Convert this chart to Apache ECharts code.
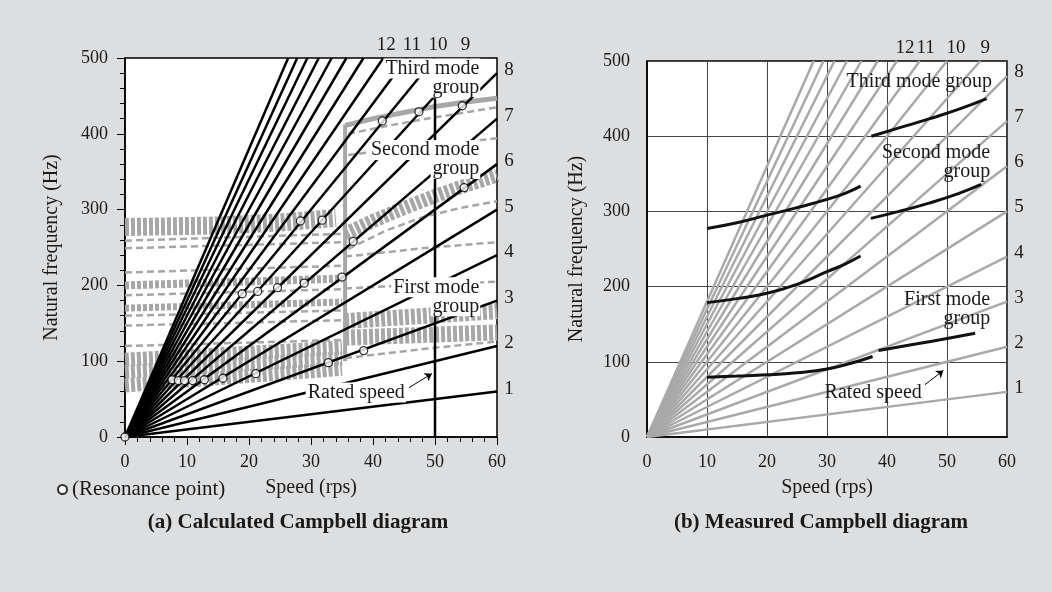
<!DOCTYPE html>
<html><head><meta charset="utf-8">
<script src="https://cdn.jsdelivr.net/npm/echarts@6/dist/echarts.min.js"></script>
<style>html,body{margin:0;padding:0;background:#dddee0}#c{width:1052px;height:592px}</style>
</head><body><div id="c"></div>
<script>
// ---------- data ----------
const speedTicks = [0, 10, 20, 30, 40, 50, 60];
const freqTicks = [0, 100, 200, 300, 400, 500];
const ordersCalc = [1,2,3,4,5,6,7,8,9,10,11,12,13,14,15,16,17,18,19];
const ordersMeas = [1,2,3,4,5,6,7,8,9,10,11,12,13,14,15,16,17,18];
const ratedSpeed = 50;
const resonancePoints = [[0,0],[7.6,75.5],[8.6,74.5],[9.6,74.5],[10.9,74.5],[12.8,75.5],[15.8,77.5],[21.1,83.5],
  [32.8,98],[38.5,114],[18.9,189],[21.4,192],[24.6,197],[28.9,203],[35.0,211],[36.8,258],
  [28.3,285],[31.8,286],[41.5,417],[47.4,429],[54.4,437],[54.7,329]];

// calculated modes (gray), before the jump
const calcHatchA = [[0,277],[15,279],[25,283],[34,289]];
const calcDashA1 = [[0,259],[35,268]];
const calcDashA2 = [[0,249],[35,257]];
const calcDashB1 = [[0,217],[35,226]];
const calcHatchB = [[0,200],[35,209]];
const calcDashB2 = [[0,187],[35,195]];
const calcHatchC = [[0,170],[35,178]];
const calcDashC1 = [[0,160],[35,167]];
const calcDashC2 = [[0,147],[35,154]];
const calcDashD0 = [[0,120],[35,128]];
const calcHatchD1 = [[0,68],[35,90]];
const calcHatchD2 = [[0,86],[35,104]];
const calcHatchD3 = [[0,102],[35,118]];
// after the jump
const calcJump = [[35.5,100],[35.5,412]];
const calcThirdBand = [[35.5,411],[40,420],[45,428],[50,436],[55,442],[60,447]];
const calcThirdDash1 = [[36,400],[42,410],[48,419],[54,427],[60,435]];
const calcThirdDash2 = [[36,372],[48,384],[60,394]];
const calcSecondBand = [[35.5,268],[40,285],[45,302],[50,318],[55,332],[60,345]];
const calcSecondDash1 = [[36,248],[42,272],[48,290],[54,302],[60,311]];
const calcSecondDash2 = [[35.5,238],[48,249],[60,257]];
const calcSecondDash3 = [[35.5,196],[48,201],[60,205]];
const calcFirstBand1 = [[35.5,131],[60,138]];
const calcFirstBand2 = [[35.5,153],[60,166]];
const calcFirstDash = [[35.5,104],[48,116],[60,126]];

// measured modes (black)
const measFirstA = [[10,79.6],[15,81],[20,82.7],[25,85.5],[30,90.3],[34,98],[37.6,107]];
const measFirstB = [[38.6,115],[45,124],[50,131],[54.7,138]];
const measSecondA = [[10,178.7],[15,184],[20,191.2],[25,203],[30,219.8],[33,230],[35.6,240.7]];
const measSecondB = [[10,277.4],[15,285],[20,295],[25,305],[30,316],[33,324],[35.6,333.6]];
const measSecondC = [[37.3,290.7],[42,300],[47,311],[52,324],[55.7,335.8]];
const measThird = [[37.4,400],[42,411],[47,423],[52,436],[56.6,450]];

// ---------- styles ----------
const FONT = 'Liberation Serif';
const TXT = '#1a1a1a';
const GRAY = '#a7a7a7';
const chart = echarts.init(document.getElementById('c'), null, {renderer:'canvas'});

function axisX(grid, opts) {
  return Object.assign({
    gridIndex: grid, type: 'value', min: 0, max: 60, interval: 10,
    axisLine: {show: true, onZero:false, lineStyle: {color: '#000', width: 1.5}},
    axisLabel: {fontFamily: FONT, fontSize: 18, color: TXT, margin: 16},
    splitLine: {show: false},
    name: 'Speed (rps)', nameLocation: 'middle', nameGap: 41,
    nameTextStyle: {fontFamily: FONT, fontSize: 20, color: TXT}
  }, opts);
}
function axisY(grid, opts) {
  return Object.assign({
    gridIndex: grid, type: 'value', min: 0, max: 500, interval: 100,
    axisLine: {show: true, onZero:false, lineStyle: {color: '#000', width: 1.5}},
    axisLabel: {fontFamily: FONT, fontSize: 18, color: TXT, margin: 17},
    splitLine: {show: false},
    name: 'Natural frequency (Hz)', nameLocation: 'middle', nameGap: 63,
    nameTextStyle: {fontFamily: FONT, fontSize: 20, color: TXT}
  }, opts);
}

const series = [];
function gray(data, kind, width) {
  const ls = {color: GRAY, cap: 'butt', join:'round'};
  if (kind === 'hatch') { ls.width = width || 10; ls.type = [4, 2]; }
  else if (kind === 'dash') { ls.width = 2.5; ls.type = [7, 4]; }
  else { ls.width = width || 4; ls.type = 'solid'; }
  series.push({type: 'line', xAxisIndex: 0, yAxisIndex: 0, data, symbol: 'none', silent: true,
    lineStyle: ls, z: 1, animation: false});
}
gray(calcHatchA, 'hatch', 18);
gray(calcDashA1, 'dash'); gray(calcDashA2, 'dash');
gray(calcDashB1, 'dash'); gray(calcHatchB, 'hatch', 8); gray(calcDashB2, 'dash');
gray(calcHatchC, 'hatch', 7); gray(calcDashC1, 'dash'); gray(calcDashC2, 'dash');
gray(calcDashD0, 'dash');
gray(calcHatchD1, 'hatch', 14); gray(calcHatchD2, 'hatch', 14); gray(calcHatchD3, 'hatch', 14);
gray(calcJump, 'solid', 4);
gray(calcThirdBand, 'solid', 5);
gray(calcThirdDash1, 'dash'); gray(calcThirdDash2, 'dash');
gray(calcSecondBand, 'hatch', 14);
gray(calcSecondDash1, 'dash'); gray(calcSecondDash2, 'dash'); gray(calcSecondDash3, 'dash');
gray(calcFirstBand1, 'hatch', 16); gray(calcFirstBand2, 'hatch', 16);
gray(calcFirstDash, 'dash');

// order lines
function orderEnd(k) { return [Math.min(60, 500 / k), Math.min(500, 60 * k)]; }
ordersCalc.forEach(k => series.push({type: 'line', xAxisIndex: 0, yAxisIndex: 0, data: [[0, 0], orderEnd(k)],
  symbol: 'none', lineStyle: {color: '#000', width: 2.5}, z: 3, animation: false, silent: true}));
ordersMeas.forEach(k => series.push({type: 'line', xAxisIndex: 1, yAxisIndex: 1, data: [[0, 0], orderEnd(k)],
  symbol: 'none', lineStyle: {color: '#a9a9a9', width: 2.5}, z: 2, animation: false, silent: true}));

// rated speed line (calc)
series.push({type: 'line', xAxisIndex: 0, yAxisIndex: 0, data: [[ratedSpeed, 0], [ratedSpeed, 447]], symbol: 'none',
  lineStyle: {color: '#000', width: 2.5}, z: 3, animation: false, silent: true});

// measured curves
[measFirstA, measFirstB, measSecondA, measSecondB, measSecondC, measThird].forEach(d =>
  series.push({type: 'line', xAxisIndex: 1, yAxisIndex: 1, data: d, symbol: 'none', smooth: true,
    lineStyle: {color: '#111', width: 3}, z: 4, animation: false, silent: true}));

// resonance points
series.push({name: '(Resonance point)', type: 'scatter', xAxisIndex: 0, yAxisIndex: 0, data: resonancePoints,
  symbol: 'circle', symbolSize: 8, clip: false, itemStyle: {color: '#fff', borderColor: '#000', borderWidth: 1.3},
  z: 7, animation: false});

// arrows
series.push({type: 'lines', coordinateSystem: 'cartesian2d', xAxisIndex: 0, yAxisIndex: 0, z: 8,
  data: [{coords: [[45.8, 65], [49.5, 83.6]]}], symbol: ['none', 'arrow'], symbolSize: 7,
  lineStyle: {color: '#000', width: 1, opacity: 1}, animation: false, silent: true});
series.push({type: 'lines', coordinateSystem: 'cartesian2d', xAxisIndex: 1, yAxisIndex: 1, z: 8,
  data: [{coords: [[46.3, 69.4], [49.4, 88.4]]}], symbol: ['none', 'arrow'], symbolSize: 7,
  lineStyle: {color: '#000', width: 1, opacity: 1}, animation: false, silent: true});

chart.setOption({
  backgroundColor: '#dddee0',
  animation: false,
  grid: [
    {left: 125, top: 58, width: 372, height: 379, show: true, backgroundColor: '#fff', borderColor: '#000', borderWidth: 1.5},
    {left: 647, top: 61, width: 360, height: 376, show: true, backgroundColor: '#fff', borderColor: '#000', borderWidth: 1.5}
  ],
  xAxis: [
    axisX(0, {axisTick: {show: true, length: 8, lineStyle: {color: '#000'}},
      minorTick: {show: true, splitNumber: 5, length: 5, lineStyle: {color: '#000'}}}),
    axisX(1, {axisTick: {show: false},
      splitLine: {show: true, lineStyle: {color: '#444', width: 1}}})
  ],
  yAxis: [
    axisY(0, {axisTick: {show: true, length: 8, lineStyle: {color: '#000'}},
      minorTick: {show: true, splitNumber: 5, length: 5, lineStyle: {color: '#000'}}}),
    axisY(1, {axisTick: {show: false}, nameGap: 60,
      splitLine: {show: true, lineStyle: {color: '#444', width: 1}}})
  ],
  legend: {data: ['(Resonance point)'], left: 52, top: 474, icon: 'circle', itemWidth: 9, itemHeight: 9, itemGap: 5,
    textStyle: {fontFamily: FONT, fontSize: 21, color: TXT}},
  series
});

// ---------- text placed through the chart's own scales ----------
const graphics = [
  {type: 'text', x: 298, y: 523, z: 100, style: {text: '(a) Calculated Campbell diagram', align: 'center', verticalAlign: 'middle',
    font: 'bold 21px "Liberation Serif"', fill: TXT}},
  {type: 'text', x: 821, y: 523, z: 100, style: {text: '(b) Measured Campbell diagram', align: 'center', verticalAlign: 'middle',
    font: 'bold 21px "Liberation Serif"', fill: TXT}}
];
function px(gi, pt) { return chart.convertToPixel({gridIndex: gi}, pt); }

const topOffL = {9: -4, 10: 3, 11: 5, 12: 3};
const topOffR = {9: 5, 10: 9, 11: 6, 12: 8};
function orderLabels(orders, gi, sideOff, topOff) {
  orders.filter(k => k <= 12).forEach(k => {
    const p = px(gi, orderEnd(k));
    const off = k <= 8 ? sideOff : [topOff[k], -13];
    graphics.push({type: 'text', x: p[0] + off[0], y: p[1] + off[1], z: 100,
      style: {text: String(k), align: 'center', verticalAlign: 'middle', font: '19px "Liberation Serif"', fill: TXT}});
  });
}
orderLabels(ordersCalc, 0, [12, -3], topOffL);
orderLabels(ordersMeas, 1, [12, -4], topOffR);

function annot(gi, pos, lines, bg) {
  const p = px(gi, pos);
  lines.forEach((t, i) => {
    const st = {text: t, align: 'right', verticalAlign: 'middle', font: '20px "Liberation Serif"', fill: TXT};
    if (bg) { st.backgroundColor = '#fff'; st.padding = [0, 1, 0, 2]; }
    graphics.push({type: 'text', x: p[0], y: p[1] + 9.5 + i * 19, z: 100, style: st});
  });
}
annot(0, [57.3, 498.7], ['Third mode', 'group'], true);
annot(0, [57.3, 391], ['Second mode', 'group'], true);
annot(0, [57.3, 210], ['First mode', 'group'], true);
annot(0, [45.3, 71.4], ['Rated speed'], true);
annot(1, [57.5, 484.8], ['Third mode group'], false);
annot(1, [57.2, 390], ['Second mode', 'group'], false);
annot(1, [57.2, 195], ['First mode', 'group'], false);
annot(1, [45.8, 71.8], ['Rated speed'], false);

chart.setOption({graphic: graphics});
</script></body></html>
